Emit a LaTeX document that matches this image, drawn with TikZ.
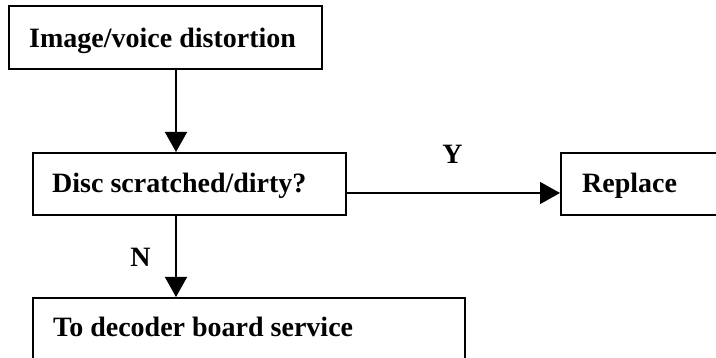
\documentclass[tikz,border=0pt]{standalone}
\usepackage{fontspec}
\setmainfont{Liberation Serif}
\usetikzlibrary{arrows.meta}
\begin{document}
\begin{tikzpicture}[x=1pt,y=-1pt,
  box/.style={draw, line width=1.6pt, inner sep=0pt, anchor=north west},
  lbl/.style={anchor=base west, inner sep=0pt, font=\fontsize{28}{32}\selectfont\bfseries},
  flow/.style={line width=1.4pt, -{Triangle[width=22pt,length=20pt]}}]
  \clip (0,0) rectangle (716,358);
  \fill[white] (0,0) rectangle (716,358);

  % boxes
  \node[box, minimum width=313pt, minimum height=63pt] (b1) at (8,5) {};
  \node[box, minimum width=313pt, minimum height=62pt] (b2) at (32,152) {};
  \node[box, minimum width=200pt, minimum height=62pt] (b3) at (560,152) {};
  \node[box, minimum width=432pt, minimum height=90pt] (b4) at (32,297) {};

  % box texts
  \node[lbl] (t1) at (29,48) {Image/voice distortion};
  \node[lbl] (t2) at (52,193) {Disc scratched/dirty?};
  \node[lbl] (t3) at (582,193) {Replace};
  \node[lbl] (t4) at (53,337) {To decoder board service};

  % connector guides
  \coordinate (col) at (176,0);
  \coordinate (row) at (0,193);

  % connectors
  \draw[flow] (b1.south -| col) -- (b2.north -| col);
  \draw[flow] (b2.east |- row) -- (b3.west |- row);
  \draw[flow] (b2.south -| col) -- (b4.north -| col);

  % branch labels
  \node[lbl, anchor=base] (ly) at (452.5,164) {Y};
  \node[lbl, anchor=base] (ln) at (140.5,267) {N};
\end{tikzpicture}
\end{document}
